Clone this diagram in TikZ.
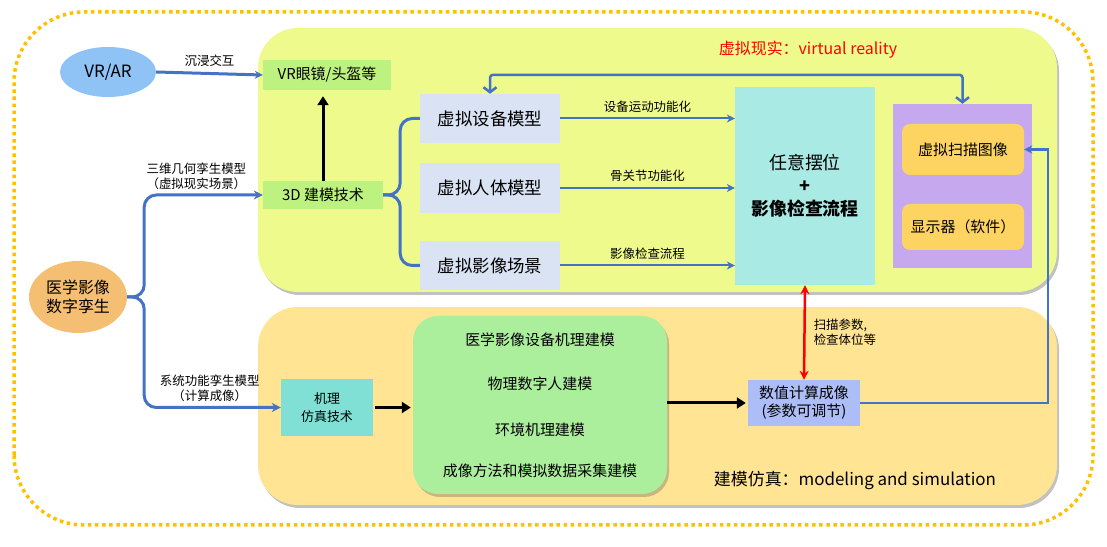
\documentclass[tikz,border=0pt]{standalone}
\usepackage{fontspec}
\setmainfont{Noto Sans CJK SC}
\usetikzlibrary{shapes.geometric,arrows.meta,shadows}

\definecolor{panelyellow}{RGB}{238,250,140}
\definecolor{panelorange}{RGB}{255,228,148}
\definecolor{dotorange}{RGB}{255,192,0}
\definecolor{lineblue}{RGB}{68,114,196}
\definecolor{vrblue}{RGB}{143,194,245}
\definecolor{twinorange}{RGB}{244,190,115}
\definecolor{techgreen}{RGB}{190,242,128}
\definecolor{modelgrey}{RGB}{218,227,243}
\definecolor{poscyan}{RGB}{170,234,228}
\definecolor{outpurple}{RGB}{197,168,237}
\definecolor{outgold}{RGB}{253,212,98}
\definecolor{groupgreen}{RGB}{171,238,155}
\definecolor{mechteal}{RGB}{128,224,214}
\definecolor{numlavender}{RGB}{173,189,247}

\tikzset{
  panel/.style={rounded corners=40bp, inner sep=0pt,
    drop shadow={shadow xshift=2bp, shadow yshift=-3bp, opacity=.35, fill=black!70}},
  box/.style={inner sep=0pt, align=center},
  bigtext/.style={font=\fontsize{17.5}{21}\selectfont},
  midtext/.style={font=\fontsize{15}{18}\selectfont},
  lbl/.style={font=\fontsize{12.5}{15}\selectfont, align=center, inner sep=2bp, text=black},
  wire/.style={line width=2bp, draw=lineblue, -{Stealth[length=8bp,width=8bp]}},
  fork/.style={line width=3bp, draw=lineblue, rounded corners=12bp},
  push/.style={line width=3bp, -{Triangle[length=9bp,width=11bp]}},
}

\begin{document}
\begin{tikzpicture}
  \useasboundingbox (0bp,0bp) rectangle (1107bp,547bp);
  \draw[dotorange, line width=3.5bp, dash pattern=on 3.5bp off 3.6bp, rounded corners=70bp] (14bp,22bp) rectangle (1093bp,535bp);

  % the two big panels
  \node (vrpanel) at (657.5bp,387bp) [panel, fill=panelyellow, minimum width=799bp, minimum height=264bp] {};
  \node (mspanel) at (657.5bp,141bp) [panel, fill=panelorange, minimum width=799bp, minimum height=198bp] {};

  \node (vrtitle) at (808bp,497bp) [text=red, font=\fontsize{16}{19}\selectfont] {虚拟现实：virtual reality};
  \node (mstitle) at (855bp,67bp) [font=\fontsize{17}{20}\selectfont] {建模仿真：modeling and simulation};

  % left side
  \node (vrar) at (108bp,475bp) [ellipse, fill=vrblue, inner sep=0pt, minimum width=96bp, minimum height=50bp, font=\fontsize{17}{20}\selectfont] {VR/AR};
  \node (twin) at (78bp,250bp) [ellipse, fill=twinorange, inner sep=0pt, minimum width=98bp, minimum height=72bp, font=\fontsize{16}{19}\selectfont, align=center] {医学影像\\数字孪生};

  % virtual reality
  \node (glasses) at (327bp,472bp) [box, fill=techgreen, minimum width=128bp, minimum height=30bp, midtext] {VR眼镜/头盔等};
  \node (model3d) at (323bp,352bp) [box, fill=techgreen, minimum width=120bp, minimum height=28bp, midtext] {3D 建模技术};
  \node (vdev)   at (490bp,428.5bp) [box, fill=modelgrey, minimum width=140bp, minimum height=49bp, bigtext] {虚拟设备模型};
  \node (vbody)  at (490bp,359bp)   [box, fill=modelgrey, minimum width=140bp, minimum height=50bp, bigtext] {虚拟人体模型};
  \node (vscene) at (490bp,281.5bp) [box, fill=modelgrey, minimum width=140bp, minimum height=49bp, bigtext] {虚拟影像场景};
  \node (posbox) at (805bp,361bp) [box, fill=poscyan, minimum width=140bp, minimum height=198bp, font=\fontsize{18}{23}\selectfont]
    {任意摆位\\\textbf{+}\\\textbf{影像检查流程}};
  \node (outbox) at (962.5bp,361bp) [box, fill=outpurple, minimum width=139bp, minimum height=164bp] {};
  \node (scan)    at (963bp,397.5bp) [box, fill=outgold, rounded corners=8bp, minimum width=122bp, minimum height=51bp, midtext] {虚拟扫描图像};
  \node (display) at (963bp,320bp)   [box, fill=outgold, rounded corners=8bp, minimum width=122bp, minimum height=46bp, midtext] {显示器（软件）};

  % modeling and simulation
  \node (mech) at (327bp,139.5bp) [box, fill=mechteal, minimum width=92bp, minimum height=57bp, font=\fontsize{13}{18}\selectfont] {机理\\仿真技术};
  \node (group) at (540bp,142bp) [box, fill=groupgreen, rounded corners=25bp, minimum width=254bp, minimum height=178bp, midtext,
    drop shadow={shadow xshift=2bp, shadow yshift=-3bp, opacity=.3, fill=black!70}]
    {医学影像设备机理建模\\[26bp]物理数字人建模\\[28bp]环境机理建模\\[23bp]成像方法和模拟数据采集建模};
  \node (numimg) at (804bp,144bp) [box, fill=numlavender, minimum width=112bp, minimum height=46bp, font=\fontsize{15}{18}\selectfont] {数值计算成像\\(参数可调节)};

  % connectors
  \draw[wire, line width=3bp] (vrar.east) -- (glasses.west) node[lbl, midway, above=3bp] {沉浸交互};
  \draw[fork, -{Stealth[length=9bp,width=9bp]}] (twin.east) -- ++(17bp,0) |- (model3d.west)
    node[lbl, pos=0.72, above=2bp] {三维几何孪生模型\\（虚拟现实场景）};
  \draw[fork, -{Stealth[length=9bp,width=9bp]}] (twin.east) -- ++(17bp,0) |- (mech.west)
    node[lbl, pos=0.74, above=2bp] {系统功能孪生模型\\（计算成像）};
  \draw[push] (model3d.north) -- (model3d.north |- glasses.south) [shorten >=6bp];

  \draw[fork] (model3d.east) -- ++(17bp,0) |- (vdev.west);
  \draw[fork] (model3d.east) -- ++(17bp,0) |- (vscene.west);

  \draw[wire] (vdev.east) -- (vdev.east -| posbox.west) node[lbl, midway, above=3bp] {设备运动功能化};
  \draw[wire] (vbody.east) -- (vbody.east -| posbox.west) node[lbl, midway, above=3bp] {骨关节功能化};
  \draw[wire] (vscene.east) -- (vscene.east -| posbox.west) node[lbl, midway, above=3bp] {影像检查流程};

  \draw[line width=2.5bp, lineblue, rounded corners=3bp, {Straight Barb[length=5bp,width=13bp]}-{Straight Barb[length=5bp,width=13bp]}]
    (vdev.north) -- ++(0,19bp) -| (outbox.north);

  \draw[red, line width=2.5bp, {Stealth[length=9bp,width=9bp]}-{Stealth[length=9bp,width=9bp]}] (posbox.south) -- (numimg.north)
    node[lbl, midway, right=6bp, align=left] {扫描参数,\\检查体位等};

  \draw[push] (mech.east) -- (mech.east -| group.west) [shorten <=2bp, shorten >=2bp];
  \draw[push] (group.east |- numimg.west) -- (numimg.west) [shorten >=2bp];
  \draw[wire, line width=2.5bp] (numimg.east) -- ++(188bp,0) |- (scan.east);
\end{tikzpicture}
\end{document}
